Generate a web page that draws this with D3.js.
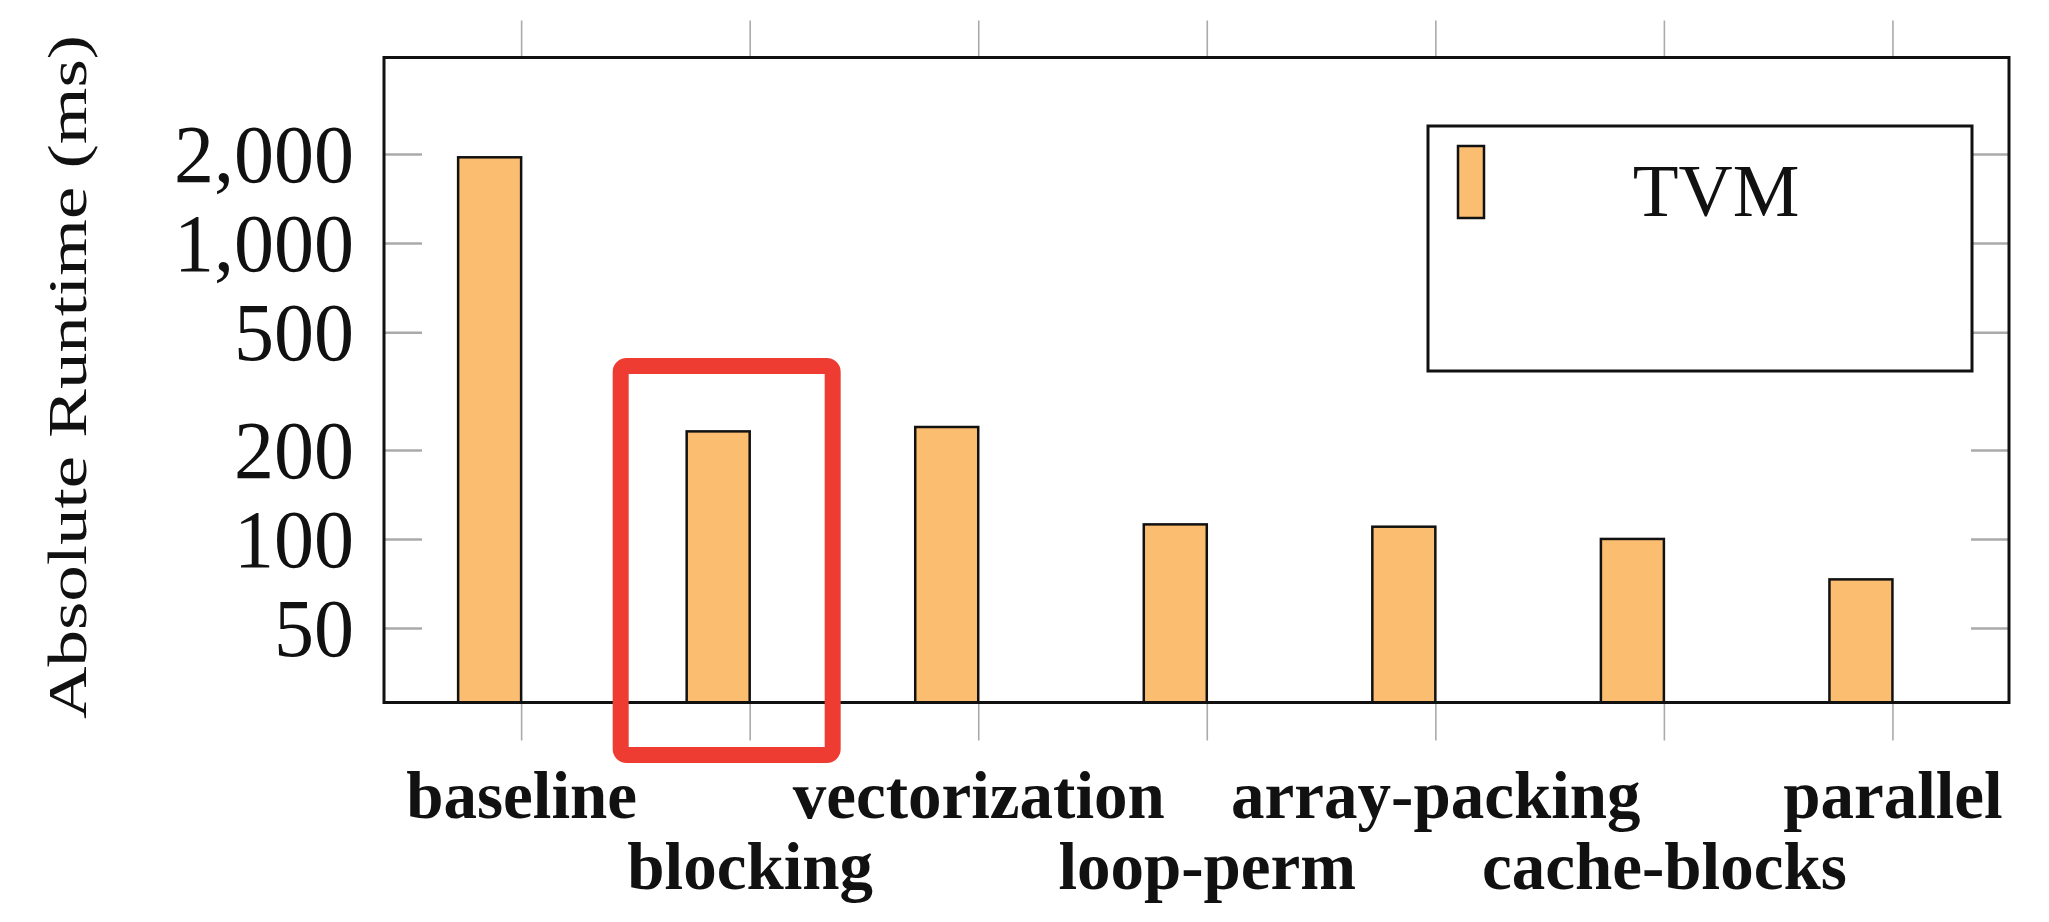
<!DOCTYPE html>
<html>
<head>
<meta charset="utf-8">
<script src="https://cdn.jsdelivr.net/npm/d3@7"></script>
<style>
  html, body { margin: 0; padding: 0; background: #fff; }
  svg { display: block; }
</style>
</head>
<body>
<svg id="chart" width="2049" height="922"></svg>
<script>
// TVM runtime per optimisation step (log scale bars)

const categories = ["baseline", "blocking", "vectorization", "loop-perm", "array-packing", "cache-blocks", "parallel"];
const runtimes = [1950, 231, 239, 112, 110, 100, 73];
const yTickValues = [50, 100, 200, 500, 1000, 2000];
const yTickLabels = ["50", "100", "200", "500", "1,000", "2,000"];
const seriesName = "TVM";
const highlighted = "blocking";

const frame = { left: 384, right: 2009, top: 57.5, bottom: 702.5 };
const barColor = "#fbbd70";
const tickColor = "#aaaaaa";
const serif = "'Liberation Serif', 'DejaVu Serif', serif";

const svg = d3.select("#chart");

const xScale = d3.scaleLinear()
  .domain([-0.6, 6.51])
  .range([frame.left, frame.right]);

const yScale = d3.scaleLog()
  .domain([28, 4240])
  .range([frame.bottom, frame.top]);

const barWidth = 63;
const idx = d3.range(categories.length);

// y ticks (inside, both sides)
const yAxisLeft = d3.axisRight(yScale)
  .tickValues(yTickValues)
  .tickSize(38)
  .tickFormat("");
svg.append("g")
  .attr("transform", `translate(${frame.left},0)`)
  .call(yAxisLeft)
  .call(g => g.select(".domain").remove())
  .call(g => g.selectAll(".tick line").attr("stroke", tickColor).attr("stroke-width", 2.5));

const yAxisRight = d3.axisLeft(yScale)
  .tickValues(yTickValues)
  .tickSize(38)
  .tickFormat("");
svg.append("g")
  .attr("transform", `translate(${frame.right},0)`)
  .call(yAxisRight)
  .call(g => g.select(".domain").remove())
  .call(g => g.selectAll(".tick line").attr("stroke", tickColor).attr("stroke-width", 2.5));

// y tick labels
svg.append("g")
  .selectAll("text")
  .data(yTickValues)
  .enter()
  .append("text")
  .attr("transform", d => `translate(${frame.left - 30},${yScale(d)}) scale(1,1.03)`)
  .attr("dy", "0.34em")
  .attr("text-anchor", "end")
  .style("font-family", serif)
  .style("font-size", "80px")
  .attr("fill", "#111")
  .text((d, i) => yTickLabels[i]);

// x ticks (outside, top and bottom)
const xAxisTop = d3.axisTop(xScale)
  .tickValues(idx)
  .tickSize(37)
  .tickFormat("");
svg.append("g")
  .attr("transform", `translate(0,${frame.top})`)
  .call(xAxisTop)
  .call(g => g.select(".domain").remove())
  .call(g => g.selectAll(".tick line").attr("stroke", tickColor).attr("stroke-width", 1.6));

const xAxisBottom = d3.axisBottom(xScale)
  .tickValues(idx)
  .tickSize(38)
  .tickFormat(i => categories[i]);
svg.append("g")
  .attr("transform", `translate(0,${frame.bottom})`)
  .call(xAxisBottom)
  .call(g => g.select(".domain").remove())
  .call(g => g.selectAll(".tick line").attr("stroke", tickColor).attr("stroke-width", 1.6))
  .call(g => g.selectAll(".tick text")
    .attr("y", i => i % 2 === 0 ? 115 : 186)
    .attr("dy", 0)
    .attr("fill", "#111")
    .style("font-family", serif)
    .style("font-weight", "bold")
    .style("font-size", "67px"));

// bars: right edge sits on the category tick
svg.append("g")
  .selectAll("rect")
  .data(runtimes)
  .enter()
  .append("rect")
  .attr("x", (d, i) => xScale(i) - barWidth)
  .attr("y", d => yScale(d))
  .attr("width", barWidth)
  .attr("height", d => frame.bottom - yScale(d))
  .attr("fill", barColor)
  .attr("stroke", "#111")
  .attr("stroke-width", 2.5);

// frame
svg.append("rect")
  .attr("x", frame.left)
  .attr("y", frame.top)
  .attr("width", frame.right - frame.left)
  .attr("height", frame.bottom - frame.top)
  .attr("fill", "none")
  .attr("stroke", "#111")
  .attr("stroke-width", 3);

// legend
const legend = svg.append("g").attr("class", "legend");
legend.append("rect")
  .attr("x", 1428).attr("y", 126)
  .attr("width", 544).attr("height", 245)
  .attr("fill", "#fff")
  .attr("stroke", "#111")
  .attr("stroke-width", 3);
legend.append("rect")
  .attr("x", 1458).attr("y", 146)
  .attr("width", 26).attr("height", 72)
  .attr("fill", barColor)
  .attr("stroke", "#111")
  .attr("stroke-width", 2.5);
legend.append("text")
  .attr("x", 1716).attr("y", 216)
  .attr("text-anchor", "middle")
  .style("font-family", serif)
  .style("font-size", "75px")
  .attr("fill", "#111")
  .text(seriesName);

// y-axis title
svg.append("text")
  .attr("transform", `translate(86,${(frame.top + frame.bottom) / 2 - 3}) rotate(-90) scale(1.35,1)`)
  .attr("text-anchor", "middle")
  .style("font-family", serif)
  .style("font-size", "54px")
  .attr("fill", "#111")
  .text("Absolute Runtime (ms)");

// red highlight box round the blocking bar
const hi = categories.indexOf(highlighted);
svg.append("rect")
  .attr("x", xScale(hi) - 129)
  .attr("y", 366)
  .attr("width", 212)
  .attr("height", 389)
  .attr("rx", 6)
  .attr("fill", "none")
  .attr("stroke", "#ee3c33")
  .attr("stroke-width", 16);
</script>
</body>
</html>
